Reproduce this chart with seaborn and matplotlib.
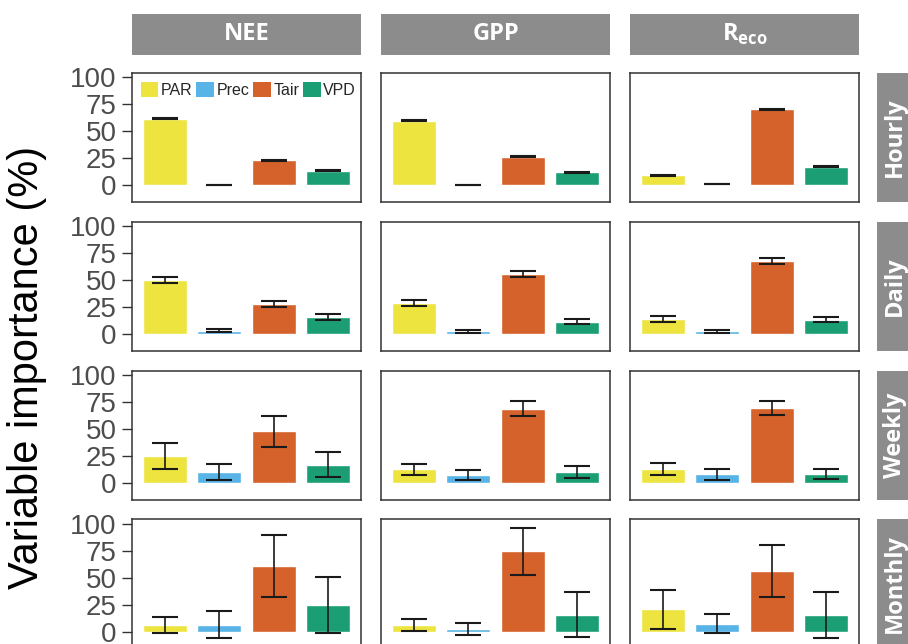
import matplotlib
matplotlib.use("Agg")
import matplotlib.pyplot as plt
from matplotlib.patches import Patch, Rectangle
import seaborn as sns

# predictors, time scales and fluxes
variables = ["PAR", "Prec", "Tair", "VPD"]
scales = ["Hourly", "Daily", "Weekly", "Monthly"]
fluxes = ["NEE", "GPP", "Reco"]
flux_labels = ["NEE", "GPP", r"$\mathbf{R}_{\mathbf{eco}}$"]
colors = ["#EDE440", "#58B4E6", "#D4622A", "#1B9E74"]

# mean importance (%) per scale, order: PAR, Prec, Tair, VPD
nee_mean = [[61.7, 0.4, 23.3, 13.5],
            [50.5, 3.4, 28.3, 16.0],
            [24.6, 10.2, 47.7, 16.9],
            [6.2, 6.8, 61.0, 24.8]]
nee_sd = [[0.5, 0.3, 0.5, 0.5],
          [2.9, 1.5, 2.8, 2.4],
          [12.0, 7.7, 14.5, 11.7],
          [7.2, 12.7, 29.0, 26.0]]

gpp_mean = [[59.8, 0.4, 26.4, 12.3],
            [29.2, 2.8, 55.4, 11.7],
            [12.6, 7.4, 68.9, 10.2],
            [6.5, 2.5, 74.7, 16.0]]
gpp_sd = [[0.5, 0.3, 0.5, 0.4],
          [2.8, 1.5, 2.8, 2.0],
          [4.8, 4.8, 7.0, 5.7],
          [5.3, 5.4, 21.8, 21.2]]

reco_mean = [[9.5, 1.2, 70.6, 17.2],
             [13.8, 2.8, 68.0, 13.5],
             [13.2, 8.0, 69.2, 8.3],
             [21.0, 7.7, 56.2, 15.4]]
reco_sd = [[0.4, 0.3, 0.5, 0.4],
           [2.8, 1.4, 2.7, 2.0],
           [5.7, 4.8, 6.3, 4.5],
           [18.0, 9.1, 24.4, 21.3]]

y_ticks = [0, 25, 50, 75, 100]

means = {"NEE": nee_mean, "GPP": gpp_mean, "Reco": reco_mean}
sds = {"NEE": nee_sd, "GPP": gpp_sd, "Reco": reco_sd}

sns.set_style("white")
plt.rcParams["font.family"] = ["Liberation Sans", "DejaVu Sans"]
plt.rcParams["mathtext.fontset"] = "custom"
plt.rcParams["mathtext.bf"] = "Open Sans:bold"
plt.rcParams["mathtext.rm"] = "Open Sans"

W, H = 908, 644
fig = plt.figure(figsize=(W / 100, H / 100), dpi=100)

strip_col = "#8C8C8C"
panel_w, panel_h = 229, 129
col_x = [132 + j * 249 for j in range(3)]
row_y = [73 + i * 148.8 for i in range(4)]


def fig_rect(x, y, w, h):
    # pixel box (from top-left) -> figure fraction
    return [x / W, 1 - (y + h) / H, w / W, h / H]


for i, scale in enumerate(scales):
    for j, flux in enumerate(fluxes):
        ax = fig.add_axes(fig_rect(col_x[j], row_y[i], panel_w, panel_h))
        vals = means[flux][i]
        errs = sds[flux][i]
        sns.barplot(x=variables, y=vals, hue=variables, palette=colors,
                    saturation=1, width=0.8, legend=False, ax=ax)
        ax.errorbar(range(len(variables)), vals, yerr=errs, fmt="none",
                    ecolor="#1A1A1A", elinewidth=1.2, capsize=9.5,
                    capthick=1.5)
        ax.set_xlim(-0.6, 3.6)
        ax.set_ylim(-15.3, 104)
        ax.set_xlabel("")
        ax.set_ylabel("")
        ax.set_xticks([])
        for sp in ax.spines.values():
            sp.set_color("#333333")
            sp.set_linewidth(1.1)
        if j == 0:
            ax.set_yticks(y_ticks)
            ax.tick_params(axis="y", left=True, length=7, width=1.0,
                           color="#333333", labelsize=20,
                           labelcolor="#4D4D4D", pad=4)
        else:
            ax.set_yticks([])

        if i == 0 and j == 0:
            handles = [Patch(facecolor=c, edgecolor="none", label=v)
                       for v, c in zip(variables, colors)]
            ax.legend(handles=handles, loc="upper left", ncol=4,
                      frameon=False, fontsize=11.5, handlelength=1.1,
                      handleheight=1.1, handletextpad=0.15,
                      columnspacing=0.25, borderaxespad=0.25,
                      borderpad=0.3, bbox_to_anchor=(0.0, 1.0))

# top strips
for j, lab in enumerate(flux_labels):
    fig.add_artist(Rectangle((col_x[j] / W, 1 - 55 / H), panel_w / W,
                             41 / H, transform=fig.transFigure,
                             facecolor=strip_col, edgecolor="none"))
    fig.text((col_x[j] + panel_w / 2) / W, 1 - 34 / H, lab, color="white",
             ha="center", va="center", fontsize=17, fontweight="bold",
             family=["Open Sans", "DejaVu Sans"])

# right strips
for i, scale in enumerate(scales):
    fig.add_artist(Rectangle((877 / W, 1 - (row_y[i] + panel_h) / H),
                             42 / W, panel_h / H, transform=fig.transFigure,
                             facecolor=strip_col, edgecolor="none"))
    fig.text(895 / W, 1 - (row_y[i] + panel_h / 2) / H, scale,
             color="white", ha="center", va="center", rotation=90,
             fontsize=17, fontweight="bold",
             family=["Open Sans", "DejaVu Sans"])

fig.text(27 / W, 1 - 367 / H, "Variable importance (%)", rotation=90,
         ha="center", va="center", fontsize=30, color="black")

fig.savefig("out.png", dpi=100)
plt.close(fig)
